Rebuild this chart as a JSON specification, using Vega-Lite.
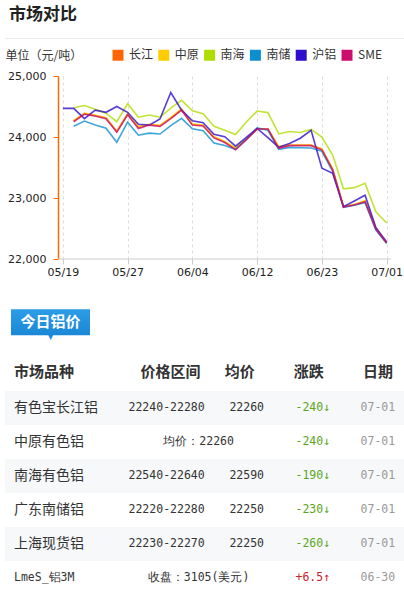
{
  "$schema": "https://vega.github.io/schema/vega-lite/v6.json",
  "background": "white",
  "padding": {"left": 4, "top": 5, "right": 0, "bottom": 0},
  "config": {"view": {"stroke": null}, "font": "Noto Sans CJK SC"},
  "columns": 1,
  "spacing": 5,
  "resolve": {"scale": {"color": "independent"}, "legend": {"color": "independent"}},
  "datasets": {
    "series": [
      {"s":"长江","i":1,"v":24260},{"s":"长江","i":2,"v":24385},{"s":"长江","i":3,"v":24350},{"s":"长江","i":4,"v":24310},{"s":"长江","i":5,"v":24090},{"s":"长江","i":6,"v":24375},{"s":"长江","i":7,"v":24160},{"s":"长江","i":8,"v":24205},{"s":"长江","i":9,"v":24185},{"s":"长江","i":10,"v":24310},{"s":"长江","i":11,"v":24450},{"s":"长江","i":12,"v":24205},{"s":"长江","i":13,"v":24190},{"s":"长江","i":14,"v":24000},{"s":"长江","i":15,"v":23920},{"s":"长江","i":16,"v":23810},{"s":"长江","i":17,"v":23960},{"s":"长江","i":18,"v":24130},{"s":"长江","i":19,"v":24130},{"s":"长江","i":20,"v":23835},{"s":"长江","i":21,"v":23865},{"s":"长江","i":22,"v":23865},{"s":"长江","i":23,"v":23865},{"s":"长江","i":24,"v":23800},{"s":"长江","i":25,"v":23470},{"s":"长江","i":26,"v":22860},{"s":"长江","i":27,"v":22890},{"s":"长江","i":28,"v":22950},{"s":"长江","i":29,"v":22500},{"s":"长江","i":30,"v":22260},
      {"s":"中原","i":1,"v":24270},{"s":"中原","i":2,"v":24390},{"s":"中原","i":3,"v":24355},{"s":"中原","i":4,"v":24315},{"s":"中原","i":5,"v":24095},{"s":"中原","i":6,"v":24380},{"s":"中原","i":7,"v":24170},{"s":"中原","i":8,"v":24210},{"s":"中原","i":9,"v":24190},{"s":"中原","i":10,"v":24320},{"s":"中原","i":11,"v":24465},{"s":"中原","i":12,"v":24215},{"s":"中原","i":13,"v":24195},{"s":"中原","i":14,"v":24005},{"s":"中原","i":15,"v":23925},{"s":"中原","i":16,"v":23825},{"s":"中原","i":17,"v":23965},{"s":"中原","i":18,"v":24135},{"s":"中原","i":19,"v":24135},{"s":"中原","i":20,"v":23845},{"s":"中原","i":21,"v":23870},{"s":"中原","i":22,"v":23870},{"s":"中原","i":23,"v":23870},{"s":"中原","i":24,"v":23805},{"s":"中原","i":25,"v":23475},{"s":"中原","i":26,"v":22865},{"s":"中原","i":27,"v":22895},{"s":"中原","i":28,"v":22955},{"s":"中原","i":29,"v":22505},{"s":"中原","i":30,"v":22260},
      {"s":"南海","i":1,"v":24480},{"s":"南海","i":2,"v":24515},{"s":"南海","i":3,"v":24455},{"s":"南海","i":4,"v":24390},{"s":"南海","i":5,"v":24250},{"s":"南海","i":6,"v":24545},{"s":"南海","i":7,"v":24325},{"s":"南海","i":8,"v":24360},{"s":"南海","i":9,"v":24325},{"s":"南海","i":10,"v":24475},{"s":"南海","i":11,"v":24600},{"s":"南海","i":12,"v":24430},{"s":"南海","i":13,"v":24380},{"s":"南海","i":14,"v":24175},{"s":"南海","i":15,"v":24110},{"s":"南海","i":16,"v":24040},{"s":"南海","i":17,"v":24245},{"s":"南海","i":18,"v":24425},{"s":"南海","i":19,"v":24400},{"s":"南海","i":20,"v":24050},{"s":"南海","i":21,"v":24090},{"s":"南海","i":22,"v":24075},{"s":"南海","i":23,"v":24125},{"s":"南海","i":24,"v":24000},{"s":"南海","i":25,"v":23705},{"s":"南海","i":26,"v":23150},{"s":"南海","i":27,"v":23170},{"s":"南海","i":28,"v":23240},{"s":"南海","i":29,"v":22775},{"s":"南海","i":30,"v":22590},
      {"s":"南储","i":1,"v":24175},{"s":"南储","i":2,"v":24262},{"s":"南储","i":3,"v":24195},{"s":"南储","i":4,"v":24145},{"s":"南储","i":5,"v":23915},{"s":"南储","i":6,"v":24243},{"s":"南储","i":7,"v":24030},{"s":"南储","i":8,"v":24063},{"s":"南储","i":9,"v":24049},{"s":"南储","i":10,"v":24188},{"s":"南储","i":11,"v":24306},{"s":"南储","i":12,"v":24135},{"s":"南储","i":13,"v":24104},{"s":"南储","i":14,"v":23900},{"s":"南储","i":15,"v":23862},{"s":"南储","i":16,"v":23798},{"s":"南储","i":17,"v":23960},{"s":"南储","i":18,"v":24150},{"s":"南储","i":19,"v":24110},{"s":"南储","i":20,"v":23798},{"s":"南储","i":21,"v":23830},{"s":"南储","i":22,"v":23825},{"s":"南储","i":23,"v":23820},{"s":"南储","i":24,"v":23765},{"s":"南储","i":25,"v":23435},{"s":"南储","i":26,"v":22847},{"s":"南储","i":27,"v":22880},{"s":"南储","i":28,"v":22923},{"s":"南储","i":29,"v":22475},{"s":"南储","i":30,"v":22255},
      {"s":"沪铝","i":0,"v":24470},{"s":"沪铝","i":1,"v":24470},{"s":"沪铝","i":2,"v":24300},{"s":"沪铝","i":3,"v":24440},{"s":"沪铝","i":4,"v":24405},{"s":"沪铝","i":5,"v":24500},{"s":"沪铝","i":6,"v":24405},{"s":"沪铝","i":7,"v":24210},{"s":"沪铝","i":8,"v":24195},{"s":"沪铝","i":9,"v":24295},{"s":"沪铝","i":10,"v":24730},{"s":"沪铝","i":11,"v":24440},{"s":"沪铝","i":12,"v":24265},{"s":"沪铝","i":13,"v":24235},{"s":"沪铝","i":14,"v":24045},{"s":"沪铝","i":15,"v":24005},{"s":"沪铝","i":16,"v":23850},{"s":"沪铝","i":17,"v":23995},{"s":"沪铝","i":18,"v":24140},{"s":"沪铝","i":19,"v":23990},{"s":"沪铝","i":20,"v":23830},{"s":"沪铝","i":21,"v":23895},{"s":"沪铝","i":22,"v":23980},{"s":"沪铝","i":23,"v":24110},{"s":"沪铝","i":24,"v":23487},{"s":"沪铝","i":25,"v":23405},{"s":"沪铝","i":26,"v":22858},{"s":"沪铝","i":27,"v":22950},{"s":"沪铝","i":28,"v":23045},{"s":"沪铝","i":29,"v":22515},{"s":"沪铝","i":30,"v":22280},
      {"s":"SME","i":1,"v":24250},{"s":"SME","i":2,"v":24375},{"s":"SME","i":3,"v":24345},{"s":"SME","i":4,"v":24300},{"s":"SME","i":5,"v":24080},{"s":"SME","i":6,"v":24365},{"s":"SME","i":7,"v":24140},{"s":"SME","i":8,"v":24195},{"s":"SME","i":9,"v":24175},{"s":"SME","i":10,"v":24300},{"s":"SME","i":11,"v":24440},{"s":"SME","i":12,"v":24195},{"s":"SME","i":13,"v":24180},{"s":"SME","i":14,"v":23985},{"s":"SME","i":15,"v":23910},{"s":"SME","i":16,"v":23790},{"s":"SME","i":17,"v":23955},{"s":"SME","i":18,"v":24130},{"s":"SME","i":19,"v":24130},{"s":"SME","i":20,"v":23815},{"s":"SME","i":21,"v":23858},{"s":"SME","i":22,"v":23858},{"s":"SME","i":23,"v":23858},{"s":"SME","i":24,"v":23790},{"s":"SME","i":25,"v":23460},{"s":"SME","i":26,"v":22850},{"s":"SME","i":27,"v":22885},{"s":"SME","i":28,"v":22940},{"s":"SME","i":29,"v":22490},{"s":"SME","i":30,"v":22265}
    ],
    "rows": [
      {"row":"r1","market":"有色宝长江铝","range":"22240-22280","avg":"22260","merged":"","chg":"-240↓","dir":"down","date":"07-01"},
      {"row":"r2","market":"中原有色铝","range":"","avg":"","merged":"均价：22260","chg":"-240↓","dir":"down","date":"07-01"},
      {"row":"r3","market":"南海有色铝","range":"22540-22640","avg":"22590","merged":"","chg":"-190↓","dir":"down","date":"07-01"},
      {"row":"r4","market":"广东南储铝","range":"22220-22280","avg":"22250","merged":"","chg":"-230↓","dir":"down","date":"07-01"},
      {"row":"r5","market":"上海现货铝","range":"22230-22270","avg":"22250","merged":"","chg":"-260↓","dir":"down","date":"07-01"},
      {"row":"r6","market":"LmeS_铝3M","range":"","avg":"","merged":"收盘：3105(美元)","chg":"+6.5↑","dir":"up","date":"06-30"}
    ],
    "headers": [{"h":"市场品种"},{"h":"价格区间"},{"h":"均价"},{"h":"涨跌"},{"h":"日期"}],
    "deco": [{"k":"tab","label":"今日铝价"},{"k":"sep","label":"今日铝价"}]
  },
  "concat": [
    {
      "width": 400,
      "height": 1,
      "view": {"fill": "#ebebeb", "stroke": null},
      "title": {"text": "市场对比", "anchor": "start", "fontSize": 17, "fontWeight": "bold", "font": "Noto Sans CJK SC", "color": "#222222", "dx": 4, "offset": 9},
      "data": {"values": [{"a": 1}]},
      "mark": {"type": "text", "opacity": 0},
      "encoding": {"text": {"value": " "}}
    },
    {
      "spacing": 17,
      "resolve": {"scale": {"color": "independent"}, "legend": {"color": "independent"}},
      "vconcat": [
        {
          "width": 400,
          "height": 183,
          "layer": [
            {
              "data": {"name": "series"},
              "mark": {"type": "line", "strokeWidth": 1.6, "opacity": 0.8},
              "encoding": {
                "x": {"field": "i", "type": "quantitative",
                      "scale": {"domain": [-5.36, 31.7], "nice": false, "zero": false},
                      "axis": {"values": [0, 6, 12, 18, 24, 30], "labelExpr": "['05/19','05/27','06/04','06/12','06/23','07/01'][round(datum.value/6)]",
                               "grid": true, "gridDash": [3, 3], "gridColor": "#dddddd", "domain": false, "tickColor": "#cccccc", "tickSize": 5,
                               "labelFont": "DejaVu Sans", "labelFontSize": 11, "labelColor": "#222222", "labelPadding": 2, "title": null}},
                "y": {"field": "v", "type": "quantitative",
                      "scale": {"domain": [22000, 25000], "nice": false, "zero": false},
                      "axis": {"values": [22000, 23000, 24000, 25000], "labelExpr": "format(datum.value, ',')", "grid": false, "offset": -53,
                               "domainColor": "#ff6600", "domainWidth": 1.5, "tickColor": "#ff6600", "tickSize": 5, "labelPadding": 7,
                               "labelFont": "DejaVu Sans", "labelFontSize": 11, "labelColor": "#222222",
                               "title": "单位（元/吨）", "titleAngle": 0, "titleAlign": "left", "titleBaseline": "middle", "titleX": -53, "titleY": -21,
                               "titleFont": "Noto Sans CJK SC", "titleFontSize": 12, "titleFontWeight": "normal", "titleColor": "#333333"}},
                "color": {"field": "s", "type": "nominal",
                          "scale": {"domain": ["长江", "中原", "南海", "南储", "沪铝", "SME"], "range": ["#ff6600", "#ffcc00", "#b0dd00", "#0d8ecf", "#2d0dcb", "#cc0d6e"]},
                          "legend": {"orient": "none", "legendX": 107, "legendY": -27, "direction": "horizontal", "title": null,
                                     "symbolType": "square", "symbolSize": 1, "symbolStrokeWidth": 10, "symbolOpacity": 1,
                                     "labelFont": "Noto Sans CJK SC", "labelFontSize": 12, "labelColor": "#333333", "labelOffset": 5, "columnPadding": -11.2}}
              }
            },
            {
              "data": {"values": [{"a": 1}]},
              "mark": {"type": "rule", "color": "#cccccc", "strokeWidth": 1},
              "encoding": {"x": {"datum": -0.45, "type": "quantitative"}, "x2": {"datum": 30.4}, "y": {"datum": 22000, "type": "quantitative"}}
            }
          ]
        },
        {
          "width": 400,
          "height": 301,
          "resolve": {"scale": {"x": "independent", "y": "independent"}},
          "layer": [
            {
              "data": {"name": "deco"},
              "layer": [
                {
                  "transform": [{"filter": "datum.k === 'sep'"}],
                  "mark": {"type": "rule", "color": "#e3e9ef", "strokeWidth": 2},
                  "encoding": {"y": {"field": "k", "type": "nominal", "scale": {"type": "point", "domain": ["tab", "sep"], "padding": 5.179, "align": 0.1403}, "axis": null}}
                },
                {
                  "transform": [{"filter": "datum.k === 'tab'"}],
                  "mark": {"type": "rect", "width": 79, "height": 26,
                           "fill": {"gradient": "linear", "x1": 0, "y1": 0, "x2": 0, "y2": 1, "stops": [{"offset": 0, "color": "#2c9de6"}, {"offset": 1, "color": "#1a88d6"}]}},
                  "encoding": {
                    "x": {"field": "label", "type": "nominal", "scale": {"type": "point", "domain": ["今日铝价"], "align": 0.11375}, "axis": null},
                    "y": {"field": "k", "type": "nominal", "axis": null}
                  }
                },
                {
                  "transform": [{"filter": "datum.k === 'tab'"}],
                  "mark": {"type": "text", "color": "#1c8ad8", "fontSize": 8, "dy": 15, "font": "DejaVu Sans"},
                  "encoding": {
                    "x": {"field": "label", "type": "nominal", "axis": null},
                    "y": {"field": "k", "type": "nominal", "axis": null},
                    "text": {"value": "▼"}
                  }
                },
                {
                  "transform": [{"filter": "datum.k === 'tab'"}],
                  "mark": {"type": "text", "color": "white", "fontSize": 15, "fontWeight": "bold", "font": "Noto Sans CJK SC"},
                  "encoding": {
                    "x": {"field": "label", "type": "nominal", "axis": null},
                    "y": {"field": "k", "type": "nominal", "axis": null},
                    "text": {"field": "label"}
                  }
                }
              ]
            },
            {
              "layer": [
                {
                  "data": {"name": "rows"},
                  "transform": [{"filter": "indexof(['r1','r3','r5'], datum.row) >= 0"}],
                  "mark": {"type": "rect", "color": "#f6f8fa"},
                  "encoding": {"y": {"field": "row", "type": "nominal",
                                     "scale": {"type": "band", "domain": ["header", "r1", "r2", "r3", "r4", "r5", "r6"], "paddingInner": 0, "paddingOuter": 0.9265, "align": 1},
                                     "axis": null}}
                },
                {
                  "data": {"name": "headers"},
                  "transform": [{"filter": "datum.h === '市场品种'"}],
                  "mark": {"type": "text", "align": "left", "dx": -87.5, "dy": -2, "fontSize": 15, "fontWeight": "bold", "color": "#333333", "font": "Noto Sans CJK SC"},
                  "encoding": {
                    "x": {"field": "h", "type": "nominal", "scale": {"type": "point", "domain": ["市场品种", "价格区间", "均价", "涨跌", "日期"], "padding": 0.8944, "align": 0.7807}, "axis": null},
                    "y": {"datum": "header", "type": "nominal"},
                    "text": {"field": "h"}
                  }
                },
                {
                  "data": {"name": "headers"},
                  "transform": [{"filter": "datum.h !== '市场品种'"}],
                  "mark": {"type": "text", "align": "center", "dy": -2, "fontSize": 15, "fontWeight": "bold", "color": "#333333", "font": "Noto Sans CJK SC"},
                  "encoding": {
                    "x": {"field": "h", "type": "nominal"},
                    "y": {"datum": "header", "type": "nominal"},
                    "text": {"field": "h"}
                  }
                },
                {
                  "data": {"name": "rows"},
                  "transform": [{"filter": "datum.row !== 'r6'"}],
                  "mark": {"type": "text", "align": "left", "dx": -87.5, "fontSize": 14, "color": "#333333", "font": "Noto Sans CJK SC"},
                  "encoding": {"x": {"datum": "市场品种", "type": "nominal"}, "y": {"field": "row", "type": "nominal"}, "text": {"field": "market"}}
                },
                {
                  "data": {"name": "rows"},
                  "transform": [{"filter": "datum.row === 'r6'"}],
                  "mark": {"type": "text", "align": "left", "dx": -87.5, "fontSize": 11.5, "color": "#333333", "font": "DejaVu Sans Mono"},
                  "encoding": {"x": {"datum": "市场品种", "type": "nominal"}, "y": {"field": "row", "type": "nominal"}, "text": {"field": "market"}}
                },
                {
                  "data": {"name": "rows"},
                  "mark": {"type": "text", "align": "center", "dx": -4, "fontSize": 11.5, "color": "#333333", "font": "DejaVu Sans Mono"},
                  "encoding": {"x": {"datum": "价格区间", "type": "nominal"}, "y": {"field": "row", "type": "nominal"}, "text": {"field": "range"}}
                },
                {
                  "data": {"name": "rows"},
                  "mark": {"type": "text", "align": "center", "dx": 28, "fontSize": 11.5, "color": "#333333", "font": "DejaVu Sans Mono"},
                  "encoding": {"x": {"datum": "价格区间", "type": "nominal"}, "y": {"field": "row", "type": "nominal"}, "text": {"field": "merged"}}
                },
                {
                  "data": {"name": "rows"},
                  "mark": {"type": "text", "align": "center", "dx": 7, "fontSize": 11.5, "color": "#333333", "font": "DejaVu Sans Mono"},
                  "encoding": {"x": {"datum": "均价", "type": "nominal"}, "y": {"field": "row", "type": "nominal"}, "text": {"field": "avg"}}
                },
                {
                  "data": {"name": "rows"},
                  "mark": {"type": "text", "align": "center", "dx": 4, "fontSize": 11.5, "font": "DejaVu Sans Mono"},
                  "encoding": {"x": {"datum": "涨跌", "type": "nominal"}, "y": {"field": "row", "type": "nominal"}, "text": {"field": "chg"},
                               "color": {"condition": {"test": "datum.dir === 'up'", "value": "#cc1a2e"}, "value": "#5ba61e"}}
                },
                {
                  "data": {"name": "rows"},
                  "mark": {"type": "text", "align": "center", "fontSize": 11.5, "color": "#999999", "font": "DejaVu Sans Mono"},
                  "encoding": {"x": {"datum": "日期", "type": "nominal"}, "y": {"field": "row", "type": "nominal"}, "text": {"field": "date"}}
                }
              ]
            }
          ]
        }
      ]
    }
  ]
}
